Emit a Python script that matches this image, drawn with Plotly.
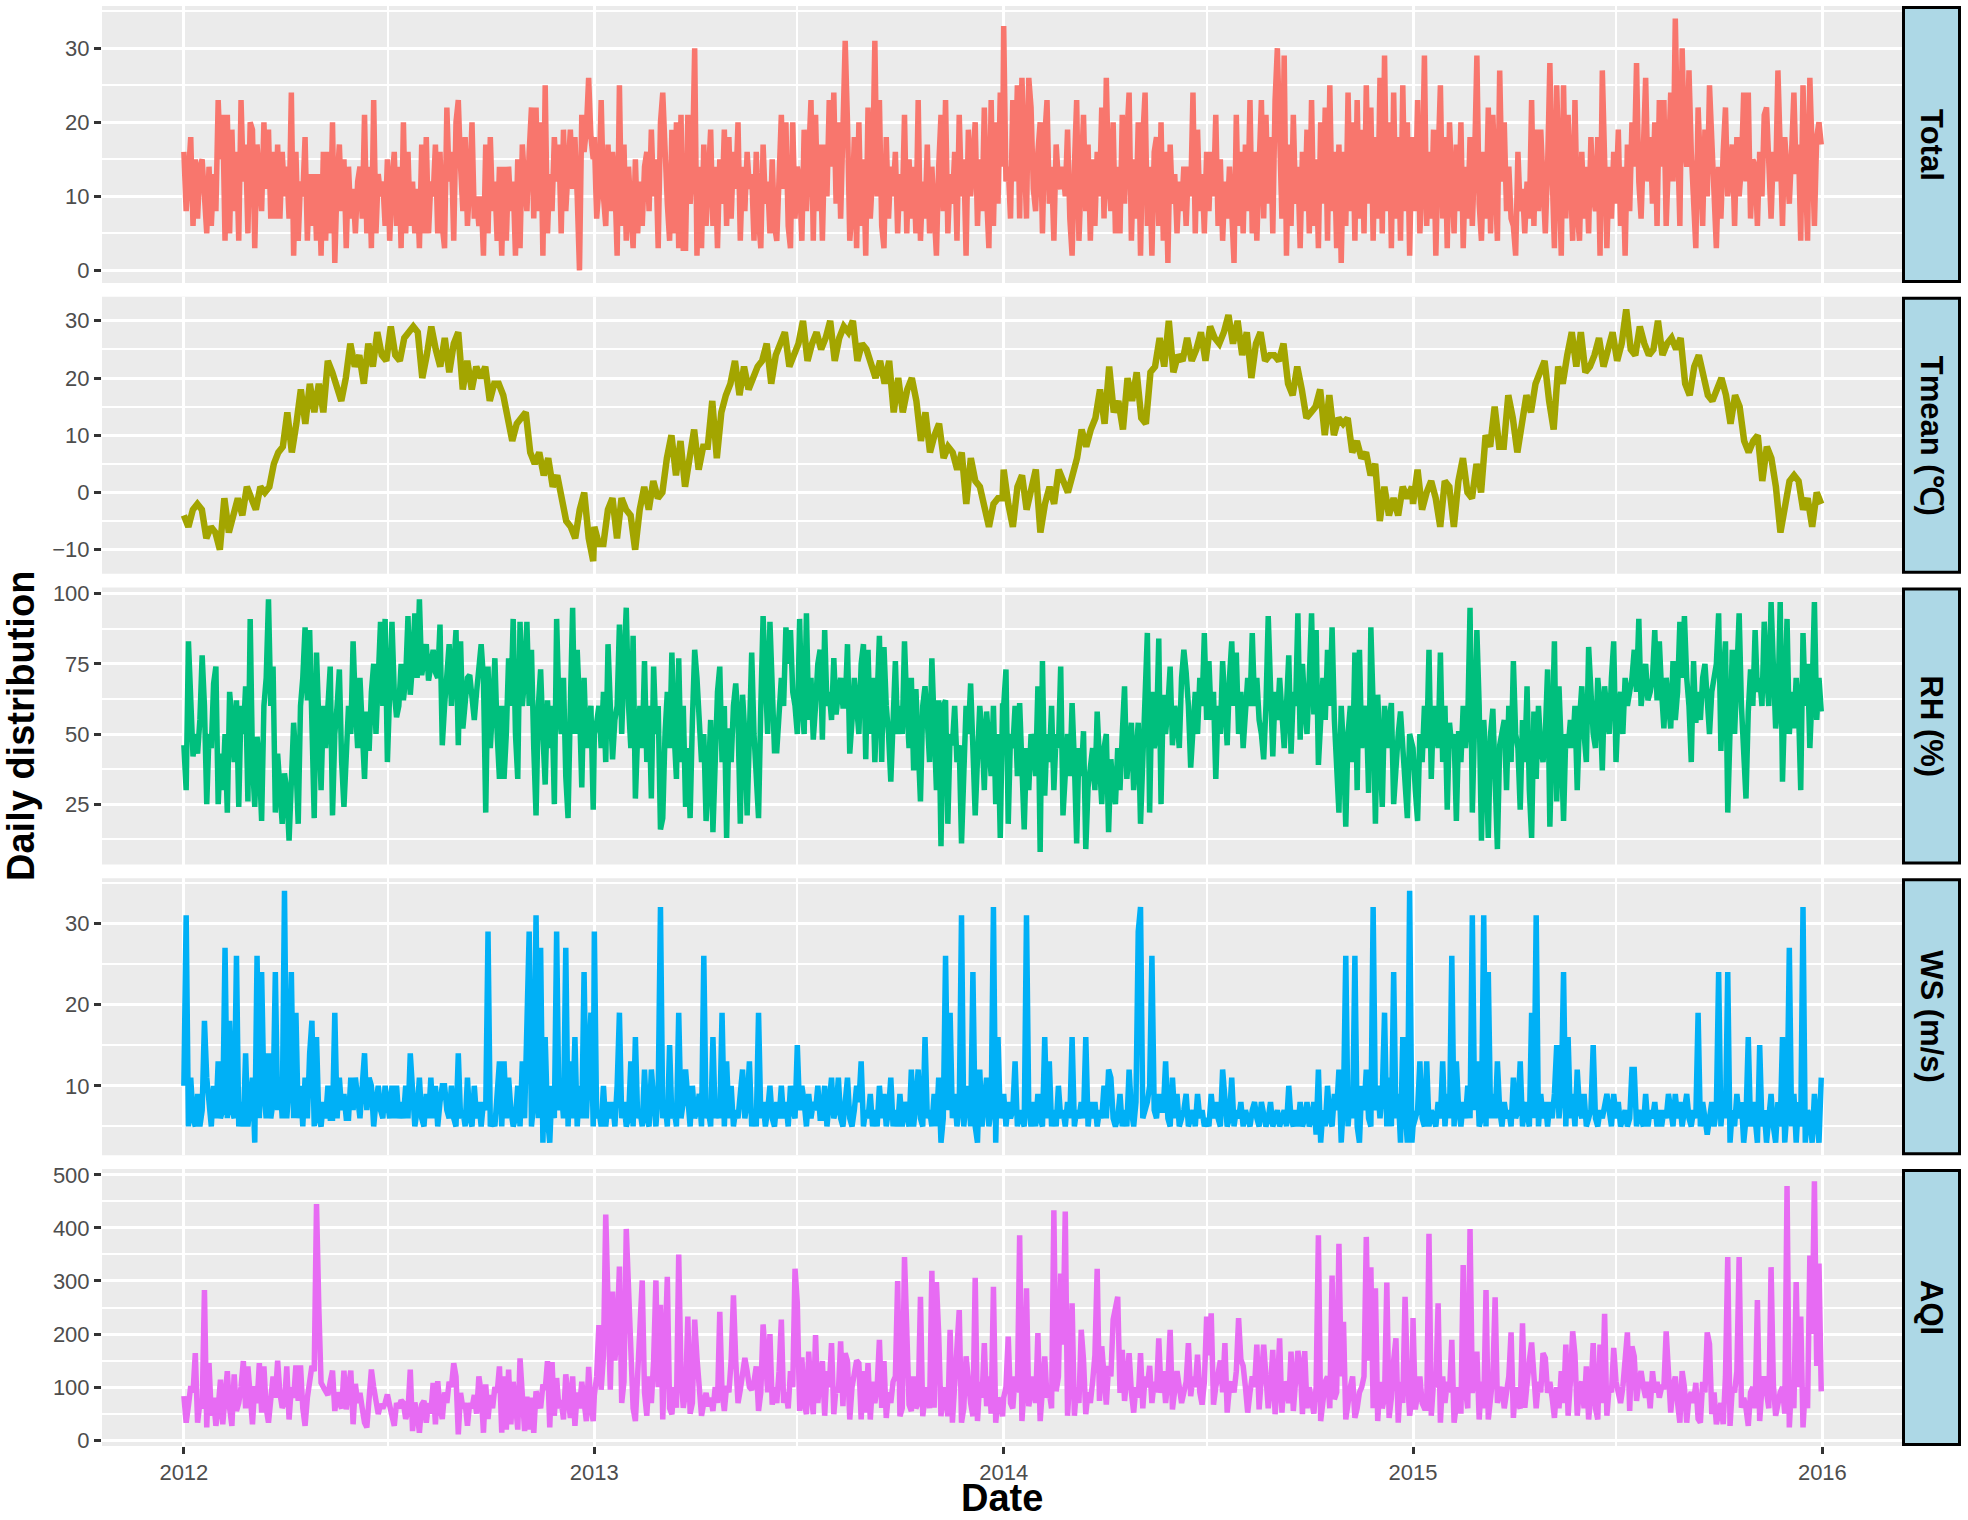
import pandas as pd
from plotly.graph_objs import Scatter
from plotly.subplots import make_subplots

WIDTH, HEIGHT = 1968, 1520
years = [2012, 2013, 2014, 2015]

# values, one list per year, evenly spread over that year
# each row of the daily-ish series covers about 20 days
total_2012 = [16, 8, 13, 18, 6, 15, 7, 14, 15, 11, 5, 14, 6, 13, 8, 23, 15, 21, 4, 21,
              5, 19, 8, 16, 4, 23, 12, 17, 5, 20, 19, 3, 17, 12, 8, 20, 11, 19, 7, 16,
              7, 17, 7, 16, 10, 14, 7, 24, 2, 16, 4, 12, 10, 18, 4, 13, 6, 13, 4, 13,
              2, 16, 4, 16, 5, 20, 1, 12, 17, 8, 15, 3, 14, 7, 11, 5, 12, 14, 7, 21,
              5, 14, 3, 23, 5, 13, 10, 12, 6, 15, 4, 12, 16, 6, 14, 3, 20, 5, 16, 6,
              12, 5, 11, 3, 17, 5, 18, 5, 12, 10, 17, 5, 16, 6, 3, 22, 12, 16, 4, 20,
              23, 14, 8, 18, 6, 12, 20, 7, 10, 6, 10, 2, 17, 5, 18, 8, 12, 4, 14, 2,
              14, 4, 14, 8, 12, 2, 15, 3, 17, 12, 8, 16, 22, 7, 22, 8, 20, 2, 25, 5,
              13, 8, 18, 12, 17, 5, 19, 8, 15, 19, 11, 18, 10, 0, 21, 16, 19, 26, 18, 15]
total_2013 = [18, 7, 11, 23, 10, 6, 17, 8, 16, 12, 2, 25, 6, 17, 4, 14, 8, 3, 15, 5,
              12, 6, 14, 16, 8, 19, 10, 15, 3, 20, 24, 15, 9, 4, 19, 5, 20, 3, 21, 3,
              3, 21, 9, 14, 30, 2, 14, 3, 17, 6, 13, 19, 6, 14, 3, 15, 9, 19, 6, 18,
              7, 16, 11, 20, 4, 14, 8, 16, 11, 13, 4, 16, 7, 3, 17, 9, 12, 5, 15, 6,
              4, 14, 21, 11, 20, 6, 3, 20, 7, 14, 12, 4, 19, 8, 15, 23, 4, 21, 8, 17,
              4, 17, 10, 23, 14, 24, 9, 20, 7, 18, 31, 20, 4, 8, 18, 3, 20, 6, 15, 2,
              22, 7, 13, 31, 10, 23, 6, 3, 18, 7, 14, 10, 16, 5, 13, 8, 21, 5, 15, 7,
              14, 5, 23, 4, 12, 7, 17, 5, 14, 8, 2, 14, 21, 8, 23, 5, 13, 9, 16, 4,
              21, 10, 15, 2, 19, 10, 14, 20, 6, 15, 8, 22, 10, 3, 23, 6, 20, 9, 24, 14]
total_2014 = [33, 12, 14, 7, 23, 12, 25, 7, 26, 17, 7, 26, 22, 11, 8, 16, 20, 5, 18, 23,
              9, 14, 4, 17, 12, 11, 14, 10, 19, 7, 2, 14, 23, 4, 14, 21, 8, 17, 4, 15,
              6, 16, 10, 22, 7, 26, 12, 8, 20, 5, 14, 5, 21, 9, 18, 24, 4, 15, 7, 20,
              2, 18, 24, 6, 14, 2, 16, 18, 6, 20, 4, 16, 1, 17, 9, 13, 5, 12, 8, 14,
              6, 14, 10, 24, 5, 19, 8, 13, 5, 16, 8, 16, 10, 21, 6, 15, 4, 12, 7, 14,
              8, 1, 21, 6, 16, 5, 17, 8, 23, 5, 16, 4, 14, 23, 7, 21, 9, 18, 5, 23,
              30, 15, 7, 29, 2, 17, 6, 21, 9, 14, 3, 16, 8, 19, 5, 23, 6, 15, 3, 20,
              9, 22, 4, 25, 8, 16, 3, 17, 1, 16, 6, 24, 8, 20, 4, 23, 7, 19, 5, 25,
              9, 22, 4, 18, 7, 26, 5, 29, 8, 20, 3, 24, 7, 18, 4, 25, 8, 20, 2, 18]
total_2015 = [17, 8, 23, 5, 12, 29, 6, 16, 7, 19, 2, 15, 25, 7, 18, 3, 20, 12, 5, 17,
              8, 20, 3, 14, 7, 18, 6, 15, 29, 9, 4, 16, 7, 22, 5, 21, 10, 4, 27, 12,
              20, 8, 14, 7, 6, 2, 16, 8, 11, 5, 12, 7, 23, 6, 19, 8, 19, 10, 5, 14,
              28, 13, 3, 25, 9, 2, 25, 7, 21, 12, 4, 23, 8, 4, 16, 7, 14, 5, 18, 10,
              8, 18, 2, 27, 10, 3, 14, 7, 16, 9, 19, 6, 14, 2, 17, 8, 20, 14, 28, 12,
              7, 16, 26, 12, 18, 9, 20, 6, 23, 14, 23, 6, 15, 24, 12, 34, 18, 6, 30, 17,
              14, 27, 16, 10, 3, 22, 15, 6, 19, 10, 25, 17, 12, 3, 14, 7, 16, 22, 10, 14,
              17, 6, 18, 10, 14, 24, 12, 24, 7, 15, 14, 6, 16, 10, 21, 22, 13, 7, 16, 12,
              27, 15, 6, 18, 12, 9, 16, 24, 13, 17, 4, 25, 14, 4, 26, 12, 6, 18, 20, 17]

# smoother series, each row covers about 40 days
tmean_2012 = [-4, -6, -3, -2, -3, -8, -6, -7, -10, -1, -7, -4, -1, -4, 1, -1, -3, 1, 0, 1, 5,
              7, 8, 14, 7, 12, 18, 12, 19, 14, 19, 14, 23, 21, 18, 16, 20, 26, 22, 24, 19,
              26, 22, 28, 24, 23, 29, 24, 23, 27, 28, 29, 28, 20, 24, 29, 25, 22, 27, 21, 26,
              28, 18, 23, 18, 22, 20, 22, 16, 19, 19, 17, 13, 9, 12, 13, 14, 7, 5, 7, 3,
              6, 1, 3, -1, -5, -6, -8, -3, 0, -8, -12]
tmean_2013 = [-6, -9, -9, -3, -1, -8, -1, -3, -4, -10, -3, 1, -3, 2, -1, 0, 6, 10, 3, 9,
              1, 7, 11, 4, 8, 8, 16, 6, 14, 17, 19, 23, 17, 22, 18, 20, 22, 23, 26, 19, 24,
              26, 28, 22, 24, 26, 30, 23, 26, 28, 25, 27, 30, 23, 27, 29, 28, 30, 23, 26, 25,
              22, 20, 23, 19, 23, 14, 20, 14, 18, 20, 16, 9, 14, 7, 10, 12, 6, 8, 7, 4,
              7, -2, 6, 2, 1, -2, -6, -2, -1, -1]
tmean_2014 = [4, -2, -6, 1, 3, -3, 1, 4, -7, -2, 1, -2, 4, 2, 0, 3, 6, 11, 8, 11,
              13, 18, 12, 22, 14, 16, 11, 20, 16, 21, 13, 12, 21, 22, 27, 22, 30, 21, 24, 23,
              27, 23, 25, 28, 23, 29, 27, 26, 28, 31, 26, 30, 24, 28, 20, 26, 28, 23, 24, 24,
              23, 26, 19, 17, 22, 18, 13, 14, 15, 18, 10, 17, 10, 13, 12, 13, 7, 9, 6, 7,
              3, 5, -5, 1, -4, -1, -4, 1, -1, 1]
tmean_2015 = [-2, 4, -3, 0, 2, -1, -6, 2, 1, -6, 2, 6, 0, -1, 5, 0, 10, 8, 15, 8,
              8, 17, 13, 7, 12, 17, 14, 19, 21, 23, 16, 11, 22, 19, 24, 28, 22, 28, 21, 22,
              24, 27, 22, 25, 28, 23, 26, 32, 25, 24, 29, 26, 24, 25, 30, 24, 26, 27, 25, 27,
              19, 17, 22, 24, 20, 17, 16, 18, 20, 17, 12, 17, 15, 9, 7, 9, 10, 2, 8, 6,
              1, -7, -3, 2, 3, 2, -3, -1, -6, 0, -2]

rh_2012 = [46, 30, 83, 60, 42, 50, 43, 55, 78, 60, 25, 50, 45, 68, 74, 25, 43, 30, 50, 22,
           65, 55, 40, 62, 24, 60, 50, 67, 26, 91, 40, 24, 49, 40, 19, 60, 70, 98, 60, 74,
           22, 43, 30, 18, 36, 30, 12, 35, 54, 40, 18, 60, 70, 88, 62, 87, 40, 20, 79, 50,
           30, 60, 45, 60, 74, 21, 50, 60, 73, 40, 24, 42, 60, 50, 83, 60, 45, 70, 55, 34,
           58, 44, 65, 75, 50, 72, 90, 60, 91, 40, 70, 90, 65, 56, 60, 75, 62, 70, 92, 64,
           75, 93, 70, 98, 71, 76, 82, 69, 75, 80, 72, 70, 89, 46, 60, 70, 82, 60, 75, 87,
           46, 83, 52, 62, 70, 71, 60, 55, 65, 75, 82, 70, 22, 74, 45, 60, 77, 50, 34, 60,
           34, 50, 77, 60, 91, 50, 34, 90, 60, 70, 90, 60, 80, 45, 21, 60, 73, 50, 32, 62,
           45, 60, 25, 91, 60, 50, 70, 35, 20, 60, 95, 50, 80, 60, 31, 70, 45, 55, 60, 23]
rh_2013 = [50, 54, 60, 45, 65, 40, 82, 60, 41, 55, 60, 89, 50, 75, 95, 60, 45, 85, 27, 50,
           60, 45, 76, 40, 60, 27, 74, 50, 60, 16, 20, 50, 65, 45, 79, 50, 34, 77, 40, 60,
           24, 45, 20, 55, 80, 70, 57, 40, 50, 19, 34, 55, 15, 50, 65, 74, 40, 60, 13, 52,
           40, 60, 68, 55, 18, 64, 50, 21, 60, 79, 50, 35, 20, 60, 92, 70, 50, 90, 65, 44,
           44, 55, 70, 60, 88, 75, 87, 65, 60, 50, 91, 60, 50, 93, 55, 70, 48, 60, 75, 80,
           48, 87, 60, 65, 55, 77, 57, 65, 70, 60, 60, 82, 43, 55, 70, 60, 50, 75, 82, 41,
           80, 50, 70, 40, 60, 85, 40, 81, 60, 50, 33, 55, 76, 50, 60, 50, 83, 60, 45, 70,
           37, 66, 50, 26, 60, 67, 55, 40, 77, 50, 30, 62, 10, 60, 62, 18, 50, 46, 60, 40,
           46, 11, 39, 60, 50, 68, 45, 21, 41, 60, 50, 30, 58, 45, 35, 60, 25, 50, 13, 60]
rh_2014 = [60, 73, 18, 50, 45, 60, 35, 61, 30, 16, 45, 30, 50, 45, 35, 67, 8, 76, 28, 50,
           40, 60, 30, 50, 45, 74, 21, 40, 50, 35, 61, 40, 11, 45, 35, 51, 9, 31, 40, 45,
           30, 58, 40, 25, 45, 50, 15, 41, 30, 25, 45, 30, 50, 67, 34, 45, 54, 30, 45, 54,
           18, 40, 60, 86, 22, 65, 45, 50, 84, 25, 64, 50, 60, 74, 46, 60, 55, 45, 70, 80,
           72, 60, 38, 55, 65, 50, 70, 60, 86, 55, 76, 55, 65, 34, 60, 50, 76, 60, 46, 70,
           83, 60, 79, 50, 65, 45, 60, 70, 60, 86, 60, 70, 55, 50, 41, 60, 92, 60, 42, 65,
           55, 70, 60, 45, 60, 78, 43, 65, 60, 93, 48, 75, 60, 50, 70, 93, 57, 87, 39, 60,
           70, 55, 80, 60, 88, 55, 40, 22, 60, 45, 17, 50, 60, 40, 79, 30, 80, 45, 55, 60,
           29, 88, 60, 18, 64, 40, 24, 60, 45, 55, 61, 25, 40, 50, 58, 45, 30, 20, 50, 45]
rh_2015 = [45, 30, 19, 50, 40, 60, 45, 80, 34, 60, 50, 45, 79, 40, 60, 23, 54, 45, 50, 19,
           51, 40, 60, 45, 55, 95, 22, 50, 87, 60, 12, 55, 40, 13, 50, 59, 35, 9, 46, 50,
           55, 30, 60, 40, 76, 50, 45, 23, 55, 40, 67, 30, 13, 58, 34, 60, 45, 40, 50, 73,
           17, 50, 83, 26, 67, 45, 19, 50, 45, 55, 45, 60, 30, 55, 67, 50, 40, 81, 60, 50,
           45, 70, 60, 37, 67, 55, 50, 70, 83, 40, 60, 65, 50, 70, 60, 65, 70, 80, 65, 91,
           60, 68, 75, 62, 65, 70, 87, 62, 83, 65, 52, 70, 60, 52, 76, 55, 65, 90, 70, 92,
           70, 60, 40, 76, 54, 65, 55, 70, 75, 60, 50, 65, 70, 75, 93, 44, 70, 83, 22, 60,
           80, 50, 70, 93, 60, 45, 27, 58, 73, 60, 87, 65, 70, 60, 90, 71, 60, 97, 65, 52,
           60, 97, 33, 60, 91, 50, 65, 52, 70, 60, 30, 86, 60, 75, 45, 65, 97, 55, 70, 58]

ws_2012 = [10, 31, 5, 11, 6, 5, 9, 5, 7, 18, 11, 8, 5, 10, 6, 13, 6, 7, 27, 6,
           18, 7, 6, 26, 5, 8, 5, 14, 5, 8, 11, 3, 26, 6, 24, 9, 6, 14, 6, 8,
           24, 7, 11, 6, 34, 6, 10, 24, 6, 19, 6, 10, 5, 11, 6, 14, 18, 5, 16, 6,
           5, 8, 6, 10, 6, 6, 19, 6, 11, 7, 9, 6, 6, 11, 7, 11, 8, 6, 10, 14,
           7, 11, 10, 5, 8, 10, 7, 6, 10, 8, 6, 10, 6, 10, 6, 8, 6, 10, 6, 14,
           10, 5, 7, 11, 6, 5, 9, 6, 11, 6, 10, 5, 8, 10, 10, 7, 6, 10, 6, 5,
           14, 6, 7, 5, 11, 6, 5, 10, 6, 8, 5, 8, 7, 29, 5, 6, 5, 10, 13, 5,
           13, 6, 11, 7, 5, 6, 10, 5, 13, 6, 16, 29, 5, 8, 31, 6, 27, 3, 16, 6,
           3, 10, 6, 29, 7, 10, 6, 27, 5, 13, 6, 16, 5, 10, 6, 24, 6, 13, 19, 5]
ws_2013 = [29, 6, 7, 5, 10, 5, 8, 6, 8, 5, 10, 19, 6, 8, 5, 6, 13, 5, 16, 6,
           7, 5, 12, 6, 5, 12, 7, 5, 9, 32, 6, 8, 5, 15, 6, 7, 5, 19, 6, 8,
           12, 7, 5, 10, 6, 7, 9, 5, 26, 6, 7, 5, 16, 6, 8, 6, 19, 5, 13, 6,
           10, 5, 7, 6, 9, 12, 6, 8, 13, 5, 7, 5, 19, 6, 8, 5, 7, 10, 6, 5,
           8, 6, 10, 6, 8, 5, 10, 7, 6, 15, 7, 10, 8, 5, 9, 6, 8, 7, 10, 6,
           6, 10, 5, 8, 11, 6, 7, 11, 6, 5, 8, 11, 6, 5, 7, 10, 8, 13, 5, 7,
           6, 9, 5, 7, 5, 10, 6, 9, 5, 7, 11, 5, 7, 5, 9, 5, 8, 6, 5, 12,
           5, 8, 12, 6, 5, 16, 6, 7, 5, 9, 5, 11, 3, 6, 26, 7, 19, 6, 9, 5,
           7, 31, 5, 8, 10, 5, 24, 5, 3, 12, 5, 8, 11, 5, 7, 32, 3, 16, 6, 8]
ws_2014 = [9, 5, 8, 6, 7, 13, 5, 7, 6, 5, 31, 7, 5, 8, 5, 9, 6, 5, 16, 6,
           13, 5, 7, 5, 10, 6, 7, 5, 8, 6, 16, 5, 7, 6, 8, 6, 16, 5, 8, 6,
           8, 5, 7, 6, 10, 6, 12, 11, 6, 5, 6, 9, 5, 7, 5, 12, 7, 5, 8, 29,
           32, 6, 7, 8, 10, 26, 7, 6, 9, 7, 7, 13, 6, 5, 11, 6, 9, 5, 6, 7,
           9, 5, 6, 7, 5, 9, 6, 7, 5, 6, 5, 9, 6, 8, 6, 5, 12, 7, 5, 6,
           11, 5, 7, 6, 8, 5, 7, 6, 5, 7, 8, 6, 5, 8, 6, 5, 6, 8, 5, 6,
           7, 5, 6, 7, 5, 10, 6, 5, 7, 5, 8, 5, 6, 8, 5, 6, 8, 4, 12, 3,
           7, 5, 10, 6, 5, 9, 7, 12, 3, 8, 26, 5, 9, 6, 26, 5, 3, 10, 7, 12,
           6, 5, 32, 7, 10, 6, 9, 19, 5, 11, 5, 24, 6, 9, 3, 16, 7, 3, 34, 3]
ws_2015 = [5, 6, 7, 13, 6, 5, 13, 5, 7, 6, 5, 8, 6, 13, 5, 9, 6, 26, 5, 13,
           7, 5, 8, 6, 10, 6, 31, 7, 13, 5, 6, 31, 5, 24, 6, 9, 6, 13, 7, 5,
           8, 6, 7, 5, 11, 6, 7, 13, 5, 8, 6, 5, 19, 6, 31, 5, 9, 6, 8, 5,
           8, 6, 9, 15, 6, 9, 24, 5, 16, 6, 9, 5, 12, 7, 6, 9, 5, 6, 7, 15,
           6, 5, 7, 6, 8, 9, 7, 5, 9, 6, 8, 5, 6, 7, 5, 6, 12, 12, 5, 7,
           6, 5, 9, 5, 7, 6, 8, 5, 7, 5, 7, 6, 9, 7, 5, 9, 6, 8, 5, 7,
           9, 6, 5, 7, 6, 19, 5, 8, 6, 4, 6, 8, 5, 7, 24, 5, 9, 6, 24, 3,
           7, 5, 9, 6, 8, 3, 6, 16, 5, 8, 6, 3, 15, 5, 7, 3, 6, 9, 5, 3,
           8, 5, 16, 3, 7, 27, 5, 9, 3, 8, 5, 32, 3, 7, 6, 3, 9, 5, 3, 11]

aqi_2012 = [83, 33, 65, 102, 90, 164, 33, 70, 60, 283, 24, 145, 46, 80, 27, 60, 114, 30, 80, 130,
            60, 27, 124, 55, 70, 100, 149, 60, 139, 65, 30, 102, 70, 145, 52, 139, 60, 33, 90, 120,
            80, 150, 89, 61, 70, 139, 39, 100, 80, 141, 74, 141, 60, 27, 80, 120, 140, 130, 445, 250,
            108, 100, 92, 85, 110, 131, 55, 90, 70, 60, 131, 58, 100, 131, 30, 106, 70, 89, 60, 33,
            24, 90, 133, 100, 70, 49, 68, 60, 70, 86, 65, 50, 27, 70, 60, 75, 70, 40, 55, 133,
            17, 71, 50, 14, 67, 74, 33, 70, 50, 108, 30, 111, 60, 40, 90, 70, 110, 100, 145, 120,
            11, 89, 60, 70, 27, 70, 60, 85, 50, 120, 90, 14, 105, 40, 85, 60, 100, 90, 139, 14,
            120, 20, 133, 30, 110, 70, 20, 154, 89, 17, 82, 20, 80, 14, 92, 70, 60, 105, 95, 149,
            24, 147, 46, 117, 60, 75, 39, 124, 90, 42, 120, 27, 90, 60, 110, 70, 36, 138, 60, 36]
aqi_2013 = [85, 120, 217, 95, 160, 425, 280, 95, 280, 150, 200, 327, 70, 110, 398, 280, 120, 60, 36, 130,
            211, 301, 90, 46, 120, 70, 150, 301, 100, 255, 39, 150, 308, 60, 49, 100, 61, 350, 120, 61,
            90, 233, 50, 70, 227, 155, 90, 46, 70, 89, 64, 80, 55, 100, 70, 242, 90, 55, 102, 90,
            150, 273, 150, 70, 95, 120, 155, 130, 100, 95, 110, 139, 55, 90, 218, 158, 90, 200, 67, 100,
            70, 130, 227, 70, 90, 60, 130, 100, 323, 258, 55, 156, 70, 49, 167, 90, 49, 198, 70, 120,
            149, 46, 130, 100, 183, 49, 100, 90, 186, 64, 164, 149, 39, 100, 130, 150, 145, 39, 130, 52,
            145, 39, 110, 70, 100, 189, 61, 149, 42, 90, 70, 110, 120, 300, 45, 60, 345, 186, 67, 55,
            120, 60, 70, 270, 45, 80, 100, 60, 319, 61, 298, 199, 45, 100, 80, 45, 208, 33, 100, 150,
            245, 33, 60, 158, 100, 70, 45, 306, 36, 110, 80, 183, 64, 120, 50, 289, 33, 80, 70, 45]
aqi_2014 = [80, 100, 195, 70, 60, 120, 90, 386, 36, 100, 286, 64, 90, 120, 70, 202, 36, 100, 158, 80,
            90, 60, 433, 92, 120, 314, 180, 431, 46, 120, 258, 46, 100, 70, 208, 152, 49, 90, 70, 110,
            160, 323, 74, 177, 100, 67, 140, 120, 227, 249, 270, 89, 170, 74, 120, 164, 90, 52, 100, 80,
            164, 60, 120, 100, 140, 70, 110, 90, 192, 89, 130, 70, 110, 208, 58, 95, 130, 100, 70, 90,
            110, 183, 83, 120, 100, 161, 90, 67, 110, 233, 160, 239, 67, 100, 130, 150, 90, 183, 52, 100,
            110, 90, 130, 230, 152, 140, 100, 52, 90, 120, 100, 180, 58, 110, 180, 120, 60, 100, 170, 49,
            100, 192, 52, 110, 100, 70, 167, 55, 120, 168, 139, 49, 168, 60, 100, 70, 50, 100, 386, 36,
            80, 110, 120, 60, 310, 77, 90, 370, 120, 223, 39, 80, 100, 120, 42, 60, 90, 100, 120, 383,
            150, 326, 60, 286, 36, 110, 60, 80, 297, 42, 80, 150, 192, 33, 110, 70, 270, 120, 46, 80]
aqi_2015 = [230, 58, 100, 120, 70, 60, 60, 389, 46, 110, 100, 258, 33, 120, 70, 110, 90, 189, 33, 70,
            100, 50, 330, 95, 60, 398, 89, 120, 167, 39, 110, 60, 283, 39, 80, 120, 269, 70, 90, 100,
            60, 90, 120, 203, 42, 100, 70, 60, 220, 61, 120, 150, 184, 100, 60, 110, 90, 164, 155, 89,
            110, 80, 42, 100, 60, 130, 70, 180, 46, 110, 205, 161, 46, 100, 110, 60, 139, 39, 90, 183,
            60, 39, 180, 70, 238, 46, 100, 90, 174, 110, 90, 70, 100, 140, 203, 55, 177, 158, 74, 110,
            130, 100, 80, 110, 60, 130, 90, 110, 80, 100, 100, 205, 140, 52, 100, 120, 70, 33, 130, 100,
            33, 80, 90, 70, 108, 40, 33, 110, 90, 203, 181, 49, 90, 30, 50, 70, 30, 120, 345, 27,
            100, 90, 130, 345, 61, 80, 60, 27, 90, 100, 60, 264, 36, 100, 120, 90, 60, 326, 105, 46,
            70, 90, 100, 50, 479, 24, 110, 60, 298, 100, 233, 24, 100, 60, 348, 200, 488, 140, 333, 92]

# panel order, top to bottom
names = ['Total', 'Tmean (℃)', 'RH (%)', 'WS (m/s)', 'AQI']
colors = ['#F8766D', '#A3A500', '#00BF7D', '#00B0F6', '#E76BF3']
line_widths = [5.5, 6.5, 5.5, 5.5, 5.5]
series = [
    [total_2012, total_2013, total_2014, total_2015],
    [tmean_2012, tmean_2013, tmean_2014, tmean_2015],
    [rh_2012, rh_2013, rh_2014, rh_2015],
    [ws_2012, ws_2013, ws_2014, ws_2015],
    [aqi_2012, aqi_2013, aqi_2014, aqi_2015],
]
y_ranges = [[-1.7, 35.7], [-14.2, 34.2], [3.5, 102.2], [1.45, 35.55], [-11, 511]]
y_major = [[0, 10, 20, 30], [-10, 0, 10, 20, 30], [25, 50, 75, 100], [10, 20, 30], [0, 100, 200, 300, 400, 500]]
y_minor = [[5, 15, 25, 35], [-5, 5, 15, 25], [12.5, 37.5, 62.5, 87.5], [5, 15, 25, 35], [50, 150, 250, 350, 450]]
x_major = ['2012-01-01', '2013-01-01', '2014-01-01', '2015-01-01', '2016-01-01']
x_labels = ['2012', '2013', '2014', '2015', '2016']
x_minor = ['2012-07-01', '2013-07-01', '2014-07-01', '2015-07-01']
x_range = ['2011-10-20', '2016-03-12']

PANEL_LEFT, PANEL_RIGHT = 102, 1902
PANEL_TOP, PANEL_HEIGHT, PANEL_PITCH = 6, 277, 290.75


def px(x):
    return x / WIDTH


def py(y):
    return 1 - y / HEIGHT


def year_dates(year, values):
    return pd.date_range(f'{year}-01-01', f'{year}-12-31', periods=len(values))


fig = make_subplots(rows=5, cols=1)

for i, (name, color, per_year) in enumerate(zip(names, colors, series)):
    row = i + 1
    top = PANEL_TOP + i * PANEL_PITCH
    bottom = top + PANEL_HEIGHT
    xs = [d for year, vals in zip(years, per_year) for d in year_dates(year, vals)]
    ys = [v for vals in per_year for v in vals]
    fig.add_trace(Scatter(x=xs, y=ys, mode='lines', name=name,
                          line=dict(color=color, width=line_widths[i])), row=row, col=1)
    fig.update_yaxes(row=row, col=1, domain=[py(bottom), py(top)], range=y_ranges[i], automargin=False,
                     tickvals=y_major[i], ticks='outside', ticklen=7, tickwidth=3, tickcolor='#333333',
                     tickfont=dict(size=22, color='#4D4D4D'), showgrid=True, gridcolor='white', gridwidth=3,
                     minor=dict(tickvals=y_minor[i], showgrid=True, gridcolor='white', gridwidth=1.6),
                     zeroline=False, showline=False)
    fig.update_xaxes(row=row, col=1, domain=[px(PANEL_LEFT), px(PANEL_RIGHT)], range=x_range, type='date',
                     automargin=False, tickvals=x_major, ticktext=x_labels, showticklabels=i == 4,
                     ticks='outside' if i == 4 else '', ticklen=7, tickwidth=3, tickcolor='#333333',
                     tickfont=dict(size=22, color='#4D4D4D'), showgrid=True, gridcolor='white', gridwidth=3,
                     minor=dict(tickvals=x_minor, showgrid=True, gridcolor='white', gridwidth=1.6),
                     zeroline=False, showline=False)
    # facet strip on the right
    fig.add_shape(type='rect', xref='paper', yref='paper', x0=px(1903.5), x1=px(1959.5),
                  y0=py(bottom - 1.5), y1=py(top + 1.5), fillcolor='#ADD8E6', line=dict(color='black', width=3))
    fig.add_annotation(xref='paper', yref='paper', x=px(1931.5), y=py((top + bottom) / 2), text=f'<b>{name}</b>',
                       xanchor='center', yanchor='middle', textangle=90, showarrow=False,
                       font=dict(size=31, color='black'))

fig.add_annotation(xref='paper', yref='paper', x=px(21), y=py(726), text='<b>Daily distribution</b>',
                   xanchor='center', yanchor='middle', textangle=-90, showarrow=False,
                   font=dict(size=38, color='black'))
fig.add_annotation(xref='paper', yref='paper', x=px(1002), y=py(1498), text='<b>Date</b>',
                   xanchor='center', yanchor='middle', showarrow=False, font=dict(size=38, color='black'))

fig.update_layout(width=WIDTH, height=HEIGHT, margin=dict(l=0, r=0, t=0, b=0), showlegend=False,
                  plot_bgcolor='#EBEBEB', paper_bgcolor='white', font=dict(family='Liberation Sans'))

fig.write_html("out.html", config={'displayModeBar': False},
               post_script="document.body.style.margin='0';document.body.style.overflow='hidden';")
